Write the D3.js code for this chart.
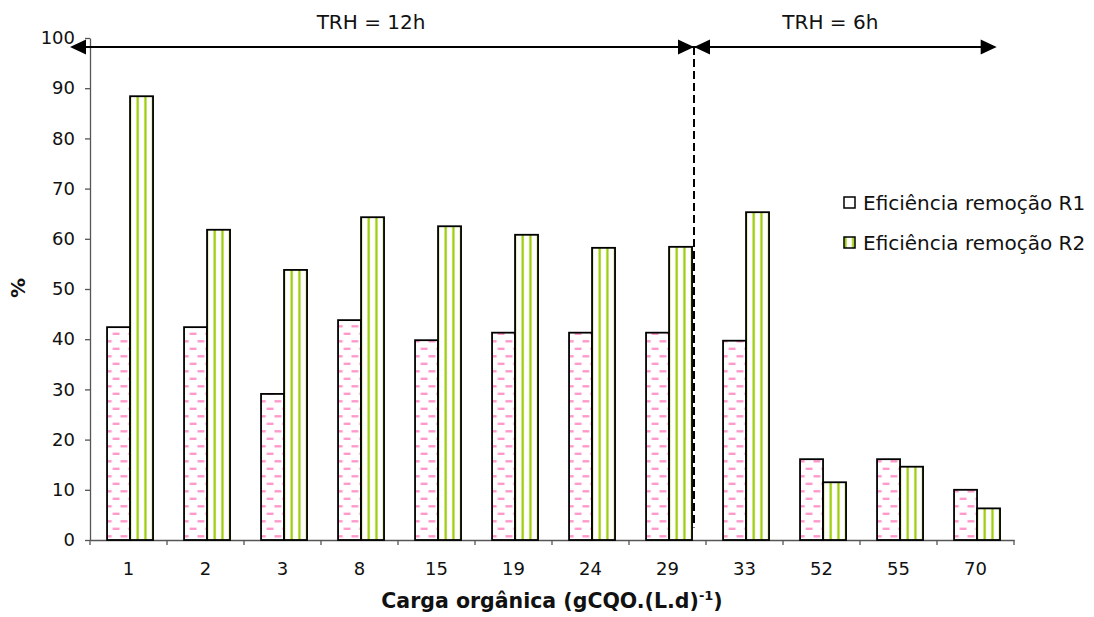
<!DOCTYPE html>
<html>
<head>
<meta charset="utf-8">
<script src="https://cdn.jsdelivr.net/npm/d3@7"></script>
<style>
  html, body { margin: 0; padding: 0; background: #fff; }
  svg { display: block; font-family: "DejaVu Sans", Verdana, sans-serif; }
</style>
</head>
<body>
<svg id="chart" width="1094" height="617"></svg>
<script>
// ---- data ----
const categories = ["1", "2", "3", "8", "15", "19", "24", "29", "33", "52", "55", "70"];
const seriesNames = ["Eficiência remoção R1", "Eficiência remoção R2"];
const r1Values = [42.4, 42.4, 29.1, 43.8, 39.8, 41.3, 41.3, 41.3, 39.7, 16.1, 16.1, 10.0];
const r2Values = [88.4, 61.8, 53.8, 64.3, 62.5, 60.8, 58.2, 58.4, 65.3, 11.5, 14.6, 6.3];
const yTicks = [0, 10, 20, 30, 40, 50, 60, 70, 80, 90, 100];
const periodLabels = ["TRH = 12h", "TRH = 6h"];
const xTitle = "Carga orgânica (gCQO.(L.d)";
const xTitleSup = "-1";
const yTitle = "%";

// ---- layout ----
const svg = d3.select("#chart");
const plot = { left: 90, right: 1014, top: 38, bottom: 540 };

const x = d3.scaleBand().domain(categories).range([plot.left, plot.right]).padding(0);
const xs = d3.scaleBand().domain(seriesNames).range([0, x.bandwidth()])
  .paddingInner(0).paddingOuter(0.674).align(0.55);
const y = d3.scaleLinear().domain([0, 100]).range([plot.bottom, plot.top]);

// ---- patterns ----
const defs = svg.append("defs");
const pink = "#ff99cc";
const p1 = defs.append("pattern").attr("id", "patR1")
  .attr("patternUnits", "userSpaceOnUse").attr("width", 15.6).attr("height", 15)
  .attr("x", 2.7).attr("y", 0);
p1.append("rect").attr("width", 15.6).attr("height", 15).attr("fill", "#fff");
p1.append("line").attr("x1", 4.4).attr("x2", 11.2).attr("y1", 3.8).attr("y2", 3.8)
  .attr("stroke", pink).attr("stroke-width", 2.4);
p1.append("line").attr("x1", -3.4).attr("x2", 3.4).attr("y1", 11.3).attr("y2", 11.3)
  .attr("stroke", pink).attr("stroke-width", 2.4);
p1.append("line").attr("x1", 12.2).attr("x2", 19).attr("y1", 11.3).attr("y2", 11.3)
  .attr("stroke", pink).attr("stroke-width", 2.4);

const p2 = defs.append("pattern").attr("id", "patR2")
  .attr("patternUnits", "userSpaceOnUse").attr("width", 7.7).attr("height", 10)
  .attr("x", 0).attr("y", 0);
p2.append("rect").attr("width", 7.7).attr("height", 10).attr("fill", "#fff");
p2.append("line").attr("x1", 1.5).attr("x2", 1.5).attr("y1", 0).attr("y2", 10)
  .attr("stroke", "#99cc00").attr("stroke-width", 2.2);

const fills = ["url(#patR1)", "url(#patR2)"];

// ---- y axis ----
const yAxis = d3.axisLeft(y).tickValues(yTicks).tickSize(5).tickPadding(10).tickSizeOuter(0);
const gy = svg.append("g").attr("transform", `translate(${plot.left},0)`).call(yAxis);
gy.select(".domain").attr("stroke", "#555").attr("stroke-width", 1.3);
gy.selectAll(".tick line").attr("stroke", "#555").attr("stroke-width", 1.3);
gy.selectAll(".tick text").attr("font-size", 18).attr("fill", "#111")
  .attr("font-family", "DejaVu Sans, Verdana, sans-serif");

// ---- x axis ----
const xAxis = d3.axisBottom(x).tickSize(0).tickPadding(22).tickSizeOuter(0);
const gx = svg.append("g").attr("transform", `translate(0,${plot.bottom})`).call(xAxis);
gx.select(".domain").attr("stroke", "#555").attr("stroke-width", 1.3);
gx.selectAll(".tick text").attr("font-size", 18).attr("fill", "#111")
  .attr("font-family", "DejaVu Sans, Verdana, sans-serif");
// boundary ticks
const boundaries = categories.map(c => x(c)).concat([x(categories[categories.length - 1]) + x.bandwidth()]);
gx.selectAll(".btick").data(boundaries).enter().append("line")
  .attr("x1", d => d).attr("x2", d => d).attr("y1", 0).attr("y2", 5)
  .attr("stroke", "#555").attr("stroke-width", 1.3);

// ---- bars ----
const rows = categories.map((c, i) => ({ cat: c, vals: [r1Values[i], r2Values[i]] }));
const groups = svg.append("g").selectAll("g").data(rows).enter().append("g")
  .attr("transform", d => `translate(${x(d.cat)},0)`);
groups.selectAll("rect").data(d => d.vals.map((v, k) => ({ v, k }))).enter().append("rect")
  .attr("x", d => xs(seriesNames[d.k]))
  .attr("y", d => y(d.v))
  .attr("width", xs.bandwidth())
  .attr("height", d => y(0) - y(d.v))
  .attr("fill", d => fills[d.k])
  .attr("stroke", "#000").attr("stroke-width", 1.8);

// ---- period annotation ----
const splitX = x(categories[8]) - 12;   // boundary between TRH periods
const arrowY = 47;
const leftStart = plot.left - 20;
const rightEnd = x(categories[11]) + x.bandwidth() * 0.775;
const ann = svg.append("g");
ann.append("line").attr("x1", leftStart + 10).attr("x2", rightEnd - 10)
  .attr("y1", arrowY).attr("y2", arrowY).attr("stroke", "#000").attr("stroke-width", 2);
function arrowHead(tipX, dir) {
  const len = 16, half = 7.5;
  ann.append("path")
    .attr("d", `M${tipX},${arrowY} L${tipX - dir * len},${arrowY - half} L${tipX - dir * len},${arrowY + half} Z`)
    .attr("fill", "#000");
}
arrowHead(leftStart, -1);
arrowHead(splitX, 1);
arrowHead(splitX, -1);
arrowHead(rightEnd, 1);
ann.append("line").attr("x1", splitX).attr("x2", splitX)
  .attr("y1", arrowY).attr("y2", y(2.5))
  .attr("stroke", "#000").attr("stroke-width", 2).attr("stroke-dasharray", "8,4");
ann.append("text").attr("x", (leftStart + splitX) / 2 - 11).attr("y", 29)
  .attr("text-anchor", "middle").attr("font-size", 20).attr("fill", "#111").text(periodLabels[0]);
ann.append("text").attr("x", (splitX + rightEnd) / 2 - 15).attr("y", 29)
  .attr("text-anchor", "middle").attr("font-size", 20).attr("fill", "#111").text(periodLabels[1]);

// ---- titles ----
const xt = svg.append("text").attr("x", (plot.left + plot.right) / 2).attr("y", 608)
  .attr("text-anchor", "middle").attr("font-size", 20.5).attr("font-weight", "bold").attr("fill", "#111");
xt.append("tspan").text(xTitle);
xt.append("tspan").attr("font-size", 13).attr("dy", -8).text(xTitleSup);
xt.append("tspan").attr("dy", 8).text(")");

svg.append("text").attr("transform", "translate(25,288) rotate(-90)")
  .attr("text-anchor", "middle").attr("font-size", 20).attr("font-weight", "bold").attr("fill", "#111")
  .text(yTitle);

// ---- legend ----
const legend = svg.append("g").attr("transform", "translate(844,197)");
const legendFills = ["#fff", "url(#patR2)"];
seriesNames.forEach((name, k) => {
  const g = legend.append("g").attr("transform", `translate(0,${k * 40})`);
  g.append("rect").attr("x", 0).attr("y", 0).attr("width", 11).attr("height", 11)
    .attr("fill", legendFills[k]).attr("stroke", "#000").attr("stroke-width", 1.5);
  g.append("text").attr("x", 19).attr("y", 13).attr("font-size", 20).attr("fill", "#111").text(name);
});
</script>
</body>
</html>
